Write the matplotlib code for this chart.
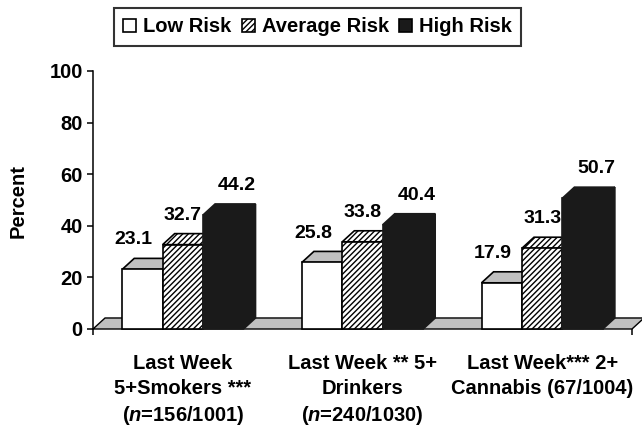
"""
risk_bars.py — 3-D style grouped bars: substance use by risk group
"""

import matplotlib
matplotlib.use("Agg")
import matplotlib.pyplot as plt
from matplotlib.patches import Polygon, Patch

plt.rcParams['font.family'] = ['Liberation Sans', 'DejaVu Sans']
plt.rcParams['font.weight'] = 'bold'
plt.rcParams['mathtext.fontset'] = 'custom'
plt.rcParams['mathtext.it'] = 'Liberation Sans:bold:italic'
plt.rcParams['mathtext.rm'] = 'Liberation Sans:bold'
plt.rcParams['hatch.linewidth'] = 1.0

GROUPS = [
    "Last Week\n5+Smokers ***\n($n$=156/1001)",
    "Last Week ** 5+\nDrinkers\n($n$=240/1030)",
    "Last Week*** 2+\nCannabis (67/1004)",
]
SERIES = ["Low Risk", "Average Risk", "High Risk"]
low_risk = [23.1, 25.8, 17.9]
average_risk = [32.7, 33.8, 31.3]
high_risk = [44.2, 40.4, 50.7]
Y_TICKS = [0, 20, 40, 60, 80, 100]

FLOOR = '#c0c0c0'
DARK = '#1a1a1a'
styles = [
    dict(face='white', top=FLOOR, hatch=None, edge='black'),
    dict(face='white', top='white', hatch='//////', edge='black'),
    dict(face=DARK, top=DARK, hatch=None, edge=DARK),
]
label_dx = [-6.5, 0, 10]   # points, value label shift per series

W = 0.225     # bar width (data units)
DX = 0.067    # depth offset in x
DY = 4.27     # depth offset in y
LW = 1.2

fig = plt.figure(figsize=(6.42, 4.32), dpi=100)
ax = fig.add_axes([93 / 642, 103 / 432, 539 / 642, 258 / 432])
ax.set_xlim(-0.5, 2.5)
ax.set_ylim(0, 100)

# floor
ax.add_patch(Polygon([(-0.5, 0), (2.5, 0), (2.5 + DX, DY), (-0.5 + DX, DY)],
                     closed=True, facecolor=FLOOR, edgecolor='black',
                     linewidth=1.0, clip_on=False, zorder=1))


def bar3d(x0, h, st):
    x1 = x0 + W
    kw = dict(closed=True, edgecolor=st['edge'], linewidth=LW,
              clip_on=False, zorder=2, hatch=st['hatch'])
    front = Polygon([(x0, 0), (x1, 0), (x1, h), (x0, h)], facecolor=st['face'], **kw)
    top = Polygon([(x0, h), (x1, h), (x1 + DX, h + DY), (x0 + DX, h + DY)],
                  facecolor=st['top'], **kw)
    side = Polygon([(x1, 0), (x1 + DX, DY), (x1 + DX, h + DY), (x1, h)],
                   facecolor=st['top'] if st['hatch'] is None else st['face'], **kw)
    for p in (side, top, front):
        ax.add_patch(p)


for g in range(len(GROUPS)):
    for s, vals in enumerate([low_risk, average_risk, high_risk]):
        x0 = g + (s - 1.5) * W
        bar3d(x0, vals[g], styles[s])
        ax.annotate(f"{vals[g]:.1f}", (x0 + W / 2, vals[g] + DY),
                    xytext=(label_dx[s], 10), textcoords='offset points',
                    ha='center', va='baseline', fontsize=14, fontweight='bold',
                    zorder=5)

# axes styling
for side in ('top', 'right'):
    ax.spines[side].set_visible(False)
ax.spines['left'].set_linewidth(1.1)
ax.spines['bottom'].set_visible(False)
ax.set_yticks(Y_TICKS)
ax.set_yticklabels([str(t) for t in Y_TICKS], fontsize=14.5, fontweight='bold')
ax.tick_params(axis='y', length=4.3, width=1.1, pad=3)
ax.set_xticks([-0.5, 2.5])
ax.set_xticklabels(['', ''])
ax.tick_params(axis='x', length=4, width=1.1)
ax.set_facecolor('none')

fig.text(18 / 642, 1 - 201 / 432, "Percent", rotation=90, ha='center', va='center',
         fontsize=14.5, fontweight='bold')

# category labels, centred under each group
for g, text in enumerate(GROUPS):
    ax.text(g, -0.097, text, transform=ax.get_xaxis_transform(), ha='center', va='top',
            multialignment='center', fontsize=14.5, fontweight='bold', linespacing=1.38)

handles = [Patch(facecolor=st['face'], edgecolor='black', hatch=st['hatch'], linewidth=1.2)
           for st in styles]
leg = fig.legend(handles, SERIES, loc='center', bbox_to_anchor=(0.4946, 0.9375),
                 ncol=3, frameon=True, fancybox=False, edgecolor='black',
                 prop=dict(size=14.5, weight='bold'), handlelength=0.65, handleheight=0.65,
                 handletextpad=0.35, columnspacing=0.5, borderpad=0.45,
                 borderaxespad=0)
leg.get_frame().set_linewidth(1.5)

fig.savefig("out.png", dpi=100)
